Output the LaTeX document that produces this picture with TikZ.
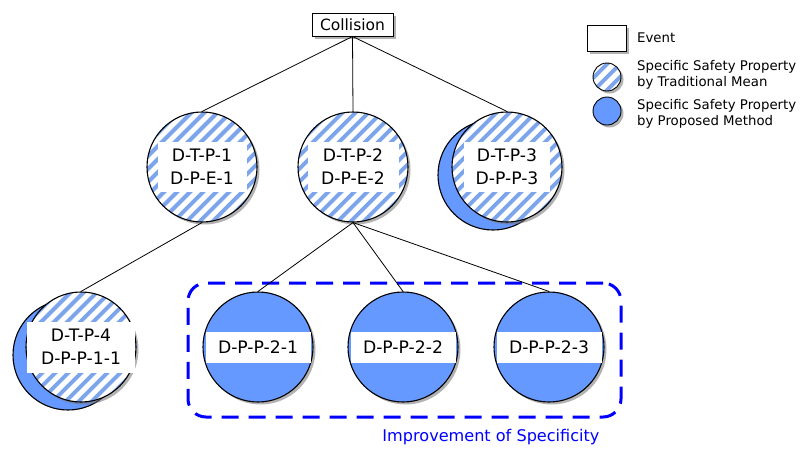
\documentclass[tikz,border=0pt]{standalone}
\usepackage{fontspec}
\setmainfont{DejaVu Sans}
\usetikzlibrary{shadows,calc}
\definecolor{pblue}{RGB}{102,153,255}
\definecolor{hblue}{RGB}{125,165,235}
\definecolor{dblue}{RGB}{0,0,255}
\begin{document}
\begin{tikzpicture}[x=1pt,y=-1pt,
  shad/.style={drop shadow={shadow xshift=2.5pt,shadow yshift=-2.5pt,fill=black!55,opacity=0.55}},
  hatchc/.style={circle, draw=black, line width=1.1pt, minimum size=#1, inner sep=0pt, fill=white, shad,
    path picture={\foreach \k in {-12,...,12}{\draw[hblue,line width=3.9pt] ($(path picture bounding box.center)+(\k*13-80,80)$) -- ++(160,-160);}}},
  bluec/.style={circle, draw=black, line width=1.1pt, minimum size=#1, inner sep=0pt, fill=pblue, shad},
  backc/.style={circle, draw=black, line width=1.1pt, minimum size=110, inner sep=0pt, fill=pblue},
  tbox/.style={fill=white, inner sep=0pt, align=center, minimum width=#1, minimum height=50,
    font=\fontsize{17.2}{23}\selectfont},
  band/.style={fill=white, inner sep=0pt, minimum width=105, minimum height=31,
    font=\fontsize{17.2}{20}\selectfont},
  evbox/.style={draw=black, line width=0.9pt, fill=white, shad, inner sep=0pt},
  conn/.style={draw=black, line width=0.8pt},
  legtext/.style={anchor=west, align=left, inner sep=0pt, font=\fontsize{13.3}{16}\selectfont}
]
\useasboundingbox[fill=white] (0,0) rectangle (801,448);

% dashed group
\node[draw=dblue, line width=3pt, dash pattern=on 17pt off 10pt, rounded corners=18pt,
  minimum width=433, minimum height=134, inner sep=0pt] (grp) at (404.5,350) {};
\node[text=dblue, inner sep=0pt, font=\fontsize{16.1}{19}\selectfont] (imp) at (491,437) {Improvement of Specificity};

% top event
\node[evbox, minimum width=81, minimum height=23, font=\fontsize{15.5}{18}\selectfont] (col) at (352.5,24.5) {Collision};

% level 1
\node[hatchc=110] (c1) at (202,167) {};
\node[tbox=89] (t1) at (c1.center) {D-T-P-1\\D-P-E-1};
\node[hatchc=110] (c2) at (353,167) {};
\node[tbox=91] (t2) at (c2.center) {D-T-P-2\\D-P-E-2};
\node[backc] (c3b) at (493,175) {};
\node[hatchc=110] (c3) at (507,167) {};
\node[tbox=86] (t3) at (c3.center) {D-T-P-3\\D-P-P-3};

% level 2
\node[backc] (c4b) at (68,355) {};
\node[hatchc=110] (c4) at (81,347) {};
\node[tbox=108, minimum height=51] (t4) at (c4.center) {D-T-P-4\\D-P-P-1-1};
\node[bluec=110] (b1) at (258,347) {};
\node[band] (tb1) at (b1.center) {D-P-P-2-1};
\node[bluec=110] (b2) at (403,347) {};
\node[band] (tb2) at (b2.center) {D-P-P-2-2};
\node[bluec=110] (b3) at (549,347) {};
\node[band] (tb3) at (b3.center) {D-P-P-2-3};

% connectors
\draw[conn] (col.south) -- (c1.north);
\draw[conn] (col.south) -- (c2.north);
\draw[conn] (col.south) -- (c3.north);
\draw[conn] (c1.south) -- (c4.north);
\draw[conn] (c2.south) -- (b1.north);
\draw[conn] (c2.south) -- (b2.north);
\draw[conn] (c2.south) -- (b3.north);

% legend
\node[evbox, minimum width=39, minimum height=26] (lev) at (606.5,38) {};
\node[legtext] (lt1) at (637,38) {Event};
\node[hatchc=28, line width=0.9pt] (lh) at (607,77) {};
\node[legtext] (lt2) at (637,75) {Specific Safety Property\\by Traditional Mean};
\node[bluec=28, line width=0.9pt] (lb) at (607,111) {};
\node[legtext] (lt3) at (637,114) {Specific Safety Property\\by Proposed Method};
\end{tikzpicture}
\end{document}
